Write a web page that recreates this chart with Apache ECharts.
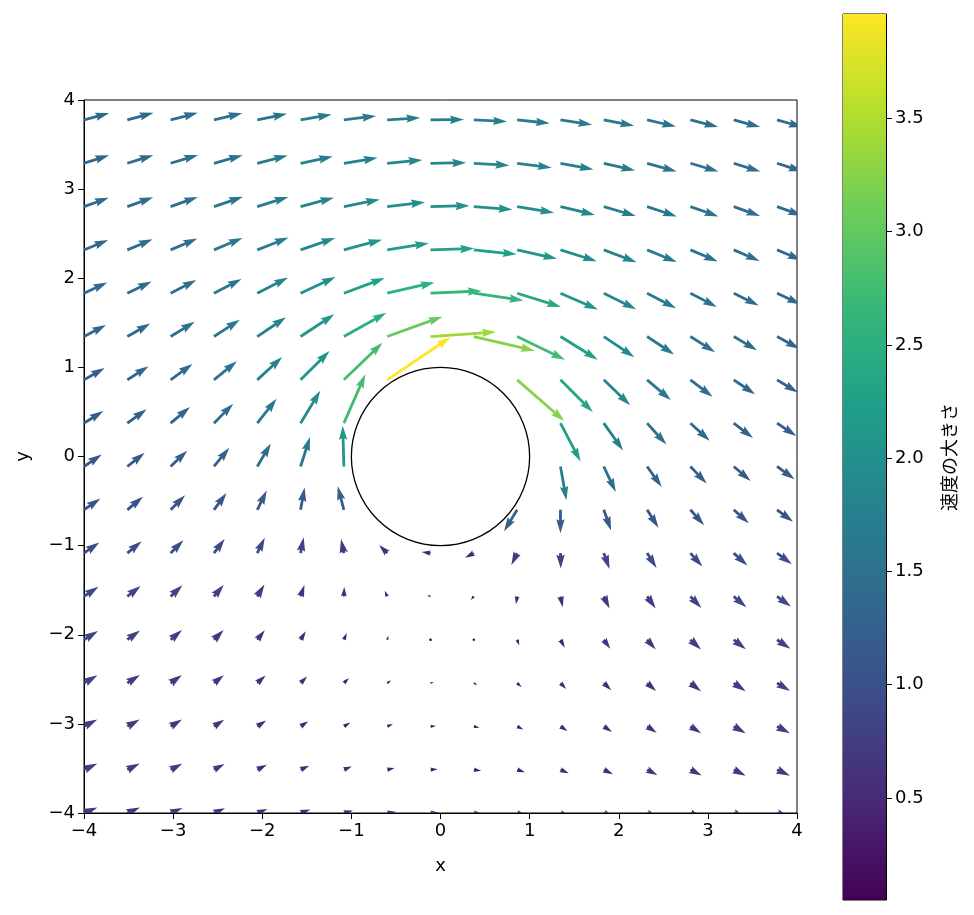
<!DOCTYPE html>
<html>
<head>
<meta charset="utf-8">
<script src="https://cdn.jsdelivr.net/npm/echarts@6.0.0/dist/echarts.min.js"></script>
<style>
html,body{margin:0;padding:0;background:#fff;}
#chart{width:974px;height:915px;}
</style>
</head>
<body>
<div id="chart"></div>
<script>
// grid coordinates of the vector field (same on both axes)
const xs = [-4.000, -3.514, -3.028, -2.542, -2.056, -1.570, -1.084, -0.598, -0.112, 0.374, 0.860, 1.346, 1.832, 2.318, 2.804, 3.290, 3.776];
const ys = [-4.000, -3.514, -3.028, -2.542, -2.056, -1.570, -1.084, -0.598, -0.112, 0.374, 0.860, 1.346, 1.832, 2.318, 2.804, 3.290, 3.776];

// u component, one row per y (bottom to top); null = inside the cylinder
const U = [
  [0.69, 0.65, 0.61, 0.57, 0.53, 0.50, 0.47, 0.45, 0.44, 0.44, 0.46, 0.48, 0.52, 0.56, 0.60, 0.63, 0.67],
  [0.69, 0.64, 0.60, 0.55, 0.50, 0.45, 0.41, 0.38, 0.37, 0.38, 0.40, 0.43, 0.48, 0.53, 0.58, 0.62, 0.67],
  [0.69, 0.64, 0.59, 0.53, 0.46, 0.40, 0.34, 0.30, 0.28, 0.29, 0.32, 0.37, 0.43, 0.50, 0.56, 0.62, 0.67],
  [0.70, 0.65, 0.58, 0.51, 0.43, 0.34, 0.26, 0.20, 0.17, 0.18, 0.23, 0.30, 0.39, 0.47, 0.55, 0.62, 0.68],
  [0.72, 0.66, 0.59, 0.50, 0.39, 0.27, 0.15, 0.06, 0.02, 0.04, 0.11, 0.22, 0.34, 0.45, 0.55, 0.63, 0.69],
  [0.75, 0.69, 0.61, 0.51, 0.37, 0.20, 0.02, -0.13, -0.18, -0.16, -0.06, 0.12, 0.30, 0.45, 0.57, 0.66, 0.72],
  [0.79, 0.74, 0.66, 0.56, 0.39, 0.16, -0.15, -0.42, -0.46, -0.46, -0.30, 0.02, 0.30, 0.49, 0.62, 0.71, 0.77],
  [0.85, 0.81, 0.75, 0.65, 0.49, 0.21, -0.32, null, null, null, -0.68, 0.00, 0.38, 0.59, 0.71, 0.78, 0.83],
  [0.92, 0.90, 0.86, 0.80, 0.70, 0.49, -0.06, null, null, null, null, 0.31, 0.62, 0.76, 0.84, 0.88, 0.91],
  [1.00, 1.00, 1.00, 1.00, 1.00, 1.02, 1.11, null, null, null, null, 1.04, 1.00, 1.00, 1.00, 1.00, 1.00],
  [1.07, 1.10, 1.13, 1.19, 1.29, 1.50, 2.00, 3.28, null, null, 2.45, 1.68, 1.37, 1.23, 1.15, 1.11, 1.08],
  [1.14, 1.19, 1.25, 1.34, 1.49, 1.75, 2.20, 2.86, 3.39, 3.16, 2.48, 1.93, 1.59, 1.40, 1.28, 1.21, 1.16],
  [1.20, 1.26, 1.33, 1.43, 1.59, 1.81, 2.12, 2.45, 2.65, 2.57, 2.27, 1.94, 1.68, 1.50, 1.37, 1.29, 1.23],
  [1.25, 1.31, 1.38, 1.48, 1.62, 1.79, 1.98, 2.16, 2.26, 2.22, 2.07, 1.88, 1.69, 1.54, 1.42, 1.34, 1.27],
  [1.28, 1.34, 1.41, 1.50, 1.61, 1.73, 1.86, 1.96, 2.02, 2.00, 1.91, 1.79, 1.66, 1.54, 1.45, 1.37, 1.30],
  [1.30, 1.35, 1.42, 1.49, 1.58, 1.67, 1.75, 1.82, 1.85, 1.84, 1.79, 1.71, 1.62, 1.53, 1.45, 1.38, 1.32],
  [1.31, 1.36, 1.41, 1.47, 1.54, 1.61, 1.67, 1.71, 1.73, 1.72, 1.69, 1.64, 1.57, 1.50, 1.44, 1.38, 1.33]
];

// v component, one row per y (bottom to top)
const V = [
  [0.28, 0.28, 0.26, 0.24, 0.21, 0.18, 0.13, 0.07, 0.01, -0.05, -0.10, -0.16, -0.20, -0.23, -0.25, -0.27, -0.28],
  [0.32, 0.32, 0.31, 0.29, 0.26, 0.21, 0.16, 0.09, 0.02, -0.06, -0.13, -0.19, -0.24, -0.28, -0.30, -0.31, -0.32],
  [0.36, 0.36, 0.36, 0.34, 0.31, 0.27, 0.20, 0.12, 0.02, -0.07, -0.16, -0.24, -0.29, -0.33, -0.35, -0.36, -0.36],
  [0.40, 0.42, 0.42, 0.41, 0.39, 0.34, 0.26, 0.15, 0.03, -0.10, -0.21, -0.31, -0.37, -0.41, -0.42, -0.42, -0.41],
  [0.45, 0.48, 0.50, 0.50, 0.49, 0.44, 0.35, 0.21, 0.04, -0.13, -0.29, -0.41, -0.47, -0.50, -0.50, -0.49, -0.47],
  [0.50, 0.54, 0.58, 0.61, 0.62, 0.59, 0.49, 0.29, 0.06, -0.19, -0.41, -0.56, -0.62, -0.62, -0.60, -0.56, -0.52],
  [0.55, 0.61, 0.67, 0.74, 0.80, 0.82, 0.73, 0.42, 0.06, -0.24, -0.61, -0.80, -0.82, -0.77, -0.70, -0.64, -0.58],
  [0.59, 0.67, 0.75, 0.87, 1.00, 1.15, 1.22, null, null, null, -1.11, -1.21, -1.07, -0.93, -0.80, -0.70, -0.62],
  [0.62, 0.71, 0.82, 0.97, 1.19, 1.53, 2.11, null, null, null, null, -1.75, -1.32, -1.06, -0.88, -0.75, -0.66],
  [0.63, 0.72, 0.84, 1.01, 1.26, 1.68, 2.53, null, null, null, null, -1.99, -1.42, -1.11, -0.91, -0.77, -0.67],
  [0.62, 0.71, 0.82, 0.97, 1.18, 1.49, 1.92, 2.21, null, null, -2.13, -1.67, -1.31, -1.05, -0.88, -0.75, -0.66],
  [0.60, 0.67, 0.76, 0.87, 1.00, 1.15, 1.23, 1.03, 0.24, -0.74, -1.20, -1.20, -1.07, -0.93, -0.81, -0.71, -0.63],
  [0.56, 0.61, 0.68, 0.74, 0.81, 0.84, 0.79, 0.56, 0.12, -0.38, -0.71, -0.84, -0.83, -0.78, -0.71, -0.64, -0.58],
  [0.51, 0.55, 0.59, 0.62, 0.64, 0.62, 0.53, 0.35, 0.07, -0.23, -0.46, -0.59, -0.64, -0.63, -0.60, -0.57, -0.53],
  [0.46, 0.48, 0.50, 0.51, 0.50, 0.46, 0.37, 0.23, 0.05, -0.15, -0.32, -0.43, -0.49, -0.51, -0.51, -0.49, -0.47],
  [0.41, 0.42, 0.43, 0.42, 0.40, 0.35, 0.28, 0.17, 0.03, -0.11, -0.23, -0.32, -0.38, -0.42, -0.43, -0.43, -0.42],
  [0.36, 0.37, 0.37, 0.35, 0.32, 0.28, 0.21, 0.12, 0.02, -0.08, -0.17, -0.25, -0.30, -0.34, -0.36, -0.37, -0.37]
];

const colorbarTicks = [0.5, 1.0, 1.5, 2.0, 2.5, 3.0, 3.5];
const speedMin = 0.05;
const speedMax = 3.96;
const cylinderCenter = [0, 0];
const cylinderRadius = 1;
const colorbarLabel = '速度の大きさ';

const viridis = ['#440154', '#482878', '#3e4a89', '#31688e', '#26828e', '#1f9e89', '#35b779', '#6dcd59', '#b4de2c', '#fde725'];

// build vector records: [x, y, u, v, |speed|]
const vectors = [];
for (let j = 0; j < ys.length; j++) {
  for (let i = 0; i < xs.length; i++) {
    const u = U[j][i], v = V[j][i];
    if (u === null || v === null) continue;
    vectors.push([xs[i], ys[j], u, v, Math.sqrt(u * u + v * v)]);
  }
}

// arrow style (matplotlib quiver look)
const PX_PER_SPEED = 19.3;
const SHAFT = 2.8;

function renderArrow(params, api) {
  const p = api.coord([api.value(0), api.value(1)]);
  const dx = api.value(2) * PX_PER_SPEED;
  const dy = -api.value(3) * PX_PER_SPEED;
  const L = Math.sqrt(dx * dx + dy * dy);
  const ang = Math.atan2(dy, dx);
  const c = Math.cos(ang), s = Math.sin(ang);
  const Lw = L / SHAFT;
  let base;
  if (Lw < 1) {
    base = [];
    for (let k = 0; k < 6; k++) {
      const t = k * Math.PI / 3;
      base.push([0.5 * Math.cos(t), 0.5 * Math.sin(t)]);
    }
  } else if (Lw < 5) {
    const k = Lw / 5;
    base = [[0, 0.5], [0.5, 0.5], [0, 1.5], [5, 0], [0, -1.5], [0.5, -0.5], [0, -0.5]]
      .map(q => [q[0] * k, q[1] * k]);
  } else {
    base = [[0, 0.5], [Lw - 4.5, 0.5], [Lw - 5, 1.5], [Lw, 0], [Lw - 5, -1.5], [Lw - 4.5, -0.5], [0, -0.5]];
  }
  const pts = base.map(q => [
    p[0] + SHAFT * (q[0] * c - q[1] * s),
    p[1] + SHAFT * (q[0] * s + q[1] * c)
  ]);
  return {
    type: 'polygon',
    shape: { points: pts },
    style: { fill: api.visual('color'), stroke: null }
  };
}

function renderCylinder(params, api) {
  const c = api.coord([api.value(0), api.value(1)]);
  const r = api.size([api.value(2), 0])[0];
  return {
    type: 'circle',
    shape: { cx: c[0], cy: c[1], r: r },
    style: { fill: null, stroke: '#000', lineWidth: 1.3 }
  };
}

function renderColorbar(params, api) {
  const p0 = api.coord([0, api.value(0)]);
  const p1 = api.coord([1, api.value(1)]);
  const stops = viridis.map((col, k) => ({ offset: k / (viridis.length - 1), color: col }));
  return {
    type: 'rect',
    shape: { x: p0[0], y: p1[1], width: p1[0] - p0[0], height: p0[1] - p1[1] },
    style: { fill: new echarts.graphic.LinearGradient(0, 1, 0, 0, stops) }
  };
}

const fontFamily = 'DejaVu Sans, sans-serif';
const minus = v => String(v).replace('-', '\u2212');

const chart = echarts.init(document.getElementById('chart'), null, { renderer: 'canvas' });
chart.setOption({
  animation: false,
  backgroundColor: '#fff',
  textStyle: { fontFamily: fontFamily },
  grid: [
    { left: 84, top: 100, width: 713, height: 713, show: true, borderColor: '#000', borderWidth: 1, backgroundColor: 'transparent' },
    { left: 843, top: 14, width: 43, height: 886, show: true, borderColor: '#000', borderWidth: 1, backgroundColor: 'transparent' }
  ],
  xAxis: [
    {
      gridIndex: 0, type: 'value', min: -4, max: 4, interval: 1,
      name: 'x', nameLocation: 'middle', nameGap: 44,
      nameTextStyle: { color: '#000', fontSize: 18, fontFamily: fontFamily },
      axisLine: { show: true, onZero: false, lineStyle: { color: '#000', width: 1 } },
      axisTick: { show: true, inside: false, length: 6, lineStyle: { color: '#000', width: 1 } },
      axisLabel: { color: '#000', fontSize: 18, margin: 9, formatter: minus, fontFamily: fontFamily },
      splitLine: { show: false }
    },
    { gridIndex: 1, type: 'value', min: 0, max: 1, show: false }
  ],
  yAxis: [
    {
      gridIndex: 0, type: 'value', min: -4, max: 4, interval: 1,
      name: 'y', nameLocation: 'middle', nameGap: 52, nameRotate: 90,
      nameTextStyle: { color: '#000', fontSize: 18, fontFamily: fontFamily },
      axisLine: { show: true, onZero: false, lineStyle: { color: '#000', width: 1 } },
      axisTick: { show: true, inside: false, length: 6, lineStyle: { color: '#000', width: 1 } },
      axisLabel: { color: '#000', fontSize: 18, margin: 9, formatter: minus, fontFamily: fontFamily },
      splitLine: { show: false }
    },
    {
      gridIndex: 1, type: 'value', min: speedMin, max: speedMax, position: 'right',
      name: colorbarLabel, nameLocation: 'middle', nameGap: 54, nameRotate: 90,
      nameTextStyle: { color: '#000', fontSize: 18, fontFamily: 'Noto Sans CJK JP, sans-serif' },
      axisLine: { show: true, onZero: false, lineStyle: { color: '#000', width: 1 } },
      axisTick: { show: true, inside: false, length: 6, customValues: colorbarTicks, lineStyle: { color: '#000', width: 1 } },
      axisLabel: { color: '#000', fontSize: 18, margin: 9, customValues: colorbarTicks, formatter: v => Number(v).toFixed(1), fontFamily: fontFamily },
      splitLine: { show: false }
    }
  ],
  visualMap: {
    type: 'continuous', show: false, seriesIndex: 0, dimension: 4,
    min: speedMin, max: speedMax,
    inRange: { color: viridis }
  },
  series: [
    {
      type: 'custom', name: 'velocity', xAxisIndex: 0, yAxisIndex: 0,
      clip: true, renderItem: renderArrow, data: vectors, z: 2,
      encode: { x: 0, y: 1 }
    },
    {
      type: 'custom', name: 'cylinder', xAxisIndex: 0, yAxisIndex: 0,
      clip: true, renderItem: renderCylinder,
      data: [[cylinderCenter[0], cylinderCenter[1], cylinderRadius]], z: 3,
      encode: { x: 0, y: 1 }
    },
    {
      type: 'custom', name: 'colorbar', xAxisIndex: 1, yAxisIndex: 1,
      renderItem: renderColorbar, data: [[speedMin, speedMax]], z: 1,
      encode: { y: [0, 1] }
    }
  ]
});
</script>
</body>
</html>
